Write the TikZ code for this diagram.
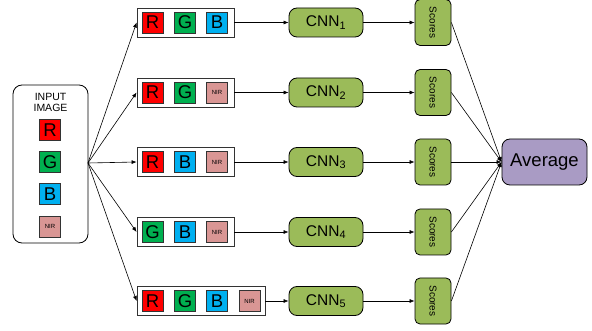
\documentclass[tikz,border=0pt]{standalone}
\usepackage{fontspec}
\setmainfont{Liberation Sans}
\usetikzlibrary{arrows.meta}
\definecolor{cR}{HTML}{FF0000}
\definecolor{cG}{HTML}{00B050}
\definecolor{cB}{HTML}{00B0F0}
\definecolor{cN}{HTML}{D99694}
\definecolor{cnng}{HTML}{9BBB59}
\definecolor{avgc}{HTML}{A99BC4}
\definecolor{edge}{HTML}{333333}
\begin{document}
\begin{tikzpicture}[x=1pt,y=-1pt,
  sq/.style={draw=edge,line width=0.8pt,minimum width=21pt,minimum height=21pt,inner sep=0pt,font=\fontsize{18.5}{18.5}\selectfont},
  nirsq/.style={sq,fill=cN,font=\fontsize{6}{6}\selectfont},
  rowbox/.style={draw=edge,line width=0.8pt,minimum height=29pt,inner sep=0pt},
  cnnbox/.style={draw=black,line width=0.8pt,fill=cnng,rounded corners=8pt,minimum width=74pt,minimum height=29pt,inner sep=0pt,font=\fontsize{15.5}{15.5}\selectfont},
  scbox/.style={draw=black,line width=0.8pt,fill=cnng,rounded corners=5pt,minimum width=36pt,minimum height=46pt,inner sep=0pt},
  arr/.style={-{Latex[length=5pt,width=4pt]},line width=0.6pt,black}]
\useasboundingbox (0,0) rectangle (592,331);
% input
\node[draw=black,line width=0.8pt,rounded corners=9pt,minimum width=75pt,minimum height=158pt,inner sep=0pt] (input) at (50.5,164) {};
\node[font=\fontsize{10.5}{11}\selectfont,align=center] (intext) at (50.5,102) {INPUT\\IMAGE};
\node[sq,fill=cR] (iR) at (50,130) {R};
\node[sq,fill=cG] (iG) at (50,162) {G};
\node[sq,fill=cB] (iB) at (50,194) {B};
\node[nirsq] (iN) at (50,226.5) {NIR};
\coordinate (src) at (88,163);
% rows
\node[rowbox,minimum width=97pt] (row1) at (185.5,22.5) {};
\node[sq,fill=cR] (r1a) at (152.5,22.5) {R};
\node[sq,fill=cG] (r1b) at (185,22.5) {G};
\node[sq,fill=cB] (r1c) at (217,22.5) {B};
\node[rowbox,minimum width=97pt] (row2) at (185.5,92.5) {};
\node[sq,fill=cR] (r2a) at (152.5,92.5) {R};
\node[sq,fill=cG] (r2b) at (185,92.5) {G};
\node[nirsq] (r2c) at (217,92.5) {NIR};
\node[rowbox,minimum width=97pt] (row3) at (185.5,162) {};
\node[sq,fill=cR] (r3a) at (152.5,162) {R};
\node[sq,fill=cB] (r3b) at (185,162) {B};
\node[nirsq] (r3c) at (217,162) {NIR};
\node[rowbox,minimum width=97pt] (row4) at (185.5,232) {};
\node[sq,fill=cG] (r4a) at (152.5,232) {G};
\node[sq,fill=cB] (r4b) at (185,232) {B};
\node[nirsq] (r4c) at (217,232) {NIR};
\node[rowbox,minimum width=128pt] (row5) at (201,301) {};
\node[sq,fill=cR] (r5a) at (152.5,301) {R};
\node[sq,fill=cG] (r5b) at (185,301) {G};
\node[sq,fill=cB] (r5c) at (217,301) {B};
\node[nirsq] (r5d) at (249.5,301) {NIR};
% CNNs
\node[cnnbox] (c1) at (326,22.5) {CNN$_{\mathrm{1}}$};
\node[cnnbox] (c2) at (326,92.5) {CNN$_{\mathrm{2}}$};
\node[cnnbox] (c3) at (326,162) {CNN$_{\mathrm{3}}$};
\node[cnnbox] (c4) at (326,232) {CNN$_{\mathrm{4}}$};
\node[cnnbox] (c5) at (326,301) {CNN$_{\mathrm{5}}$};
% scores
\foreach \i/\y in {1/22.5,2/92.5,3/162,4/232,5/301}{
  \node[scbox] (s\i) at (433,\y) {};
  \node[rotate=-90,font=\fontsize{10}{10}\selectfont] (st\i) at (433,\y) {Scores};
}
% average
\node[draw=black,line width=0.8pt,fill=avgc,rounded corners=8pt,minimum width=85pt,minimum height=46pt,inner sep=0pt,font=\fontsize{18.5}{18.5}\selectfont] (avg) at (544.5,162) {Average};
% connectors
\foreach \i in {1,...,5}{
  \draw[arr] (src) -- (row\i.west);
  \draw[arr] (row\i.east) -- (c\i.west);
  \draw[arr] (c\i.east) -- (s\i.west);
  \draw[arr] (s\i.east) -- (avg.west);
}
\end{tikzpicture}
\end{document}
